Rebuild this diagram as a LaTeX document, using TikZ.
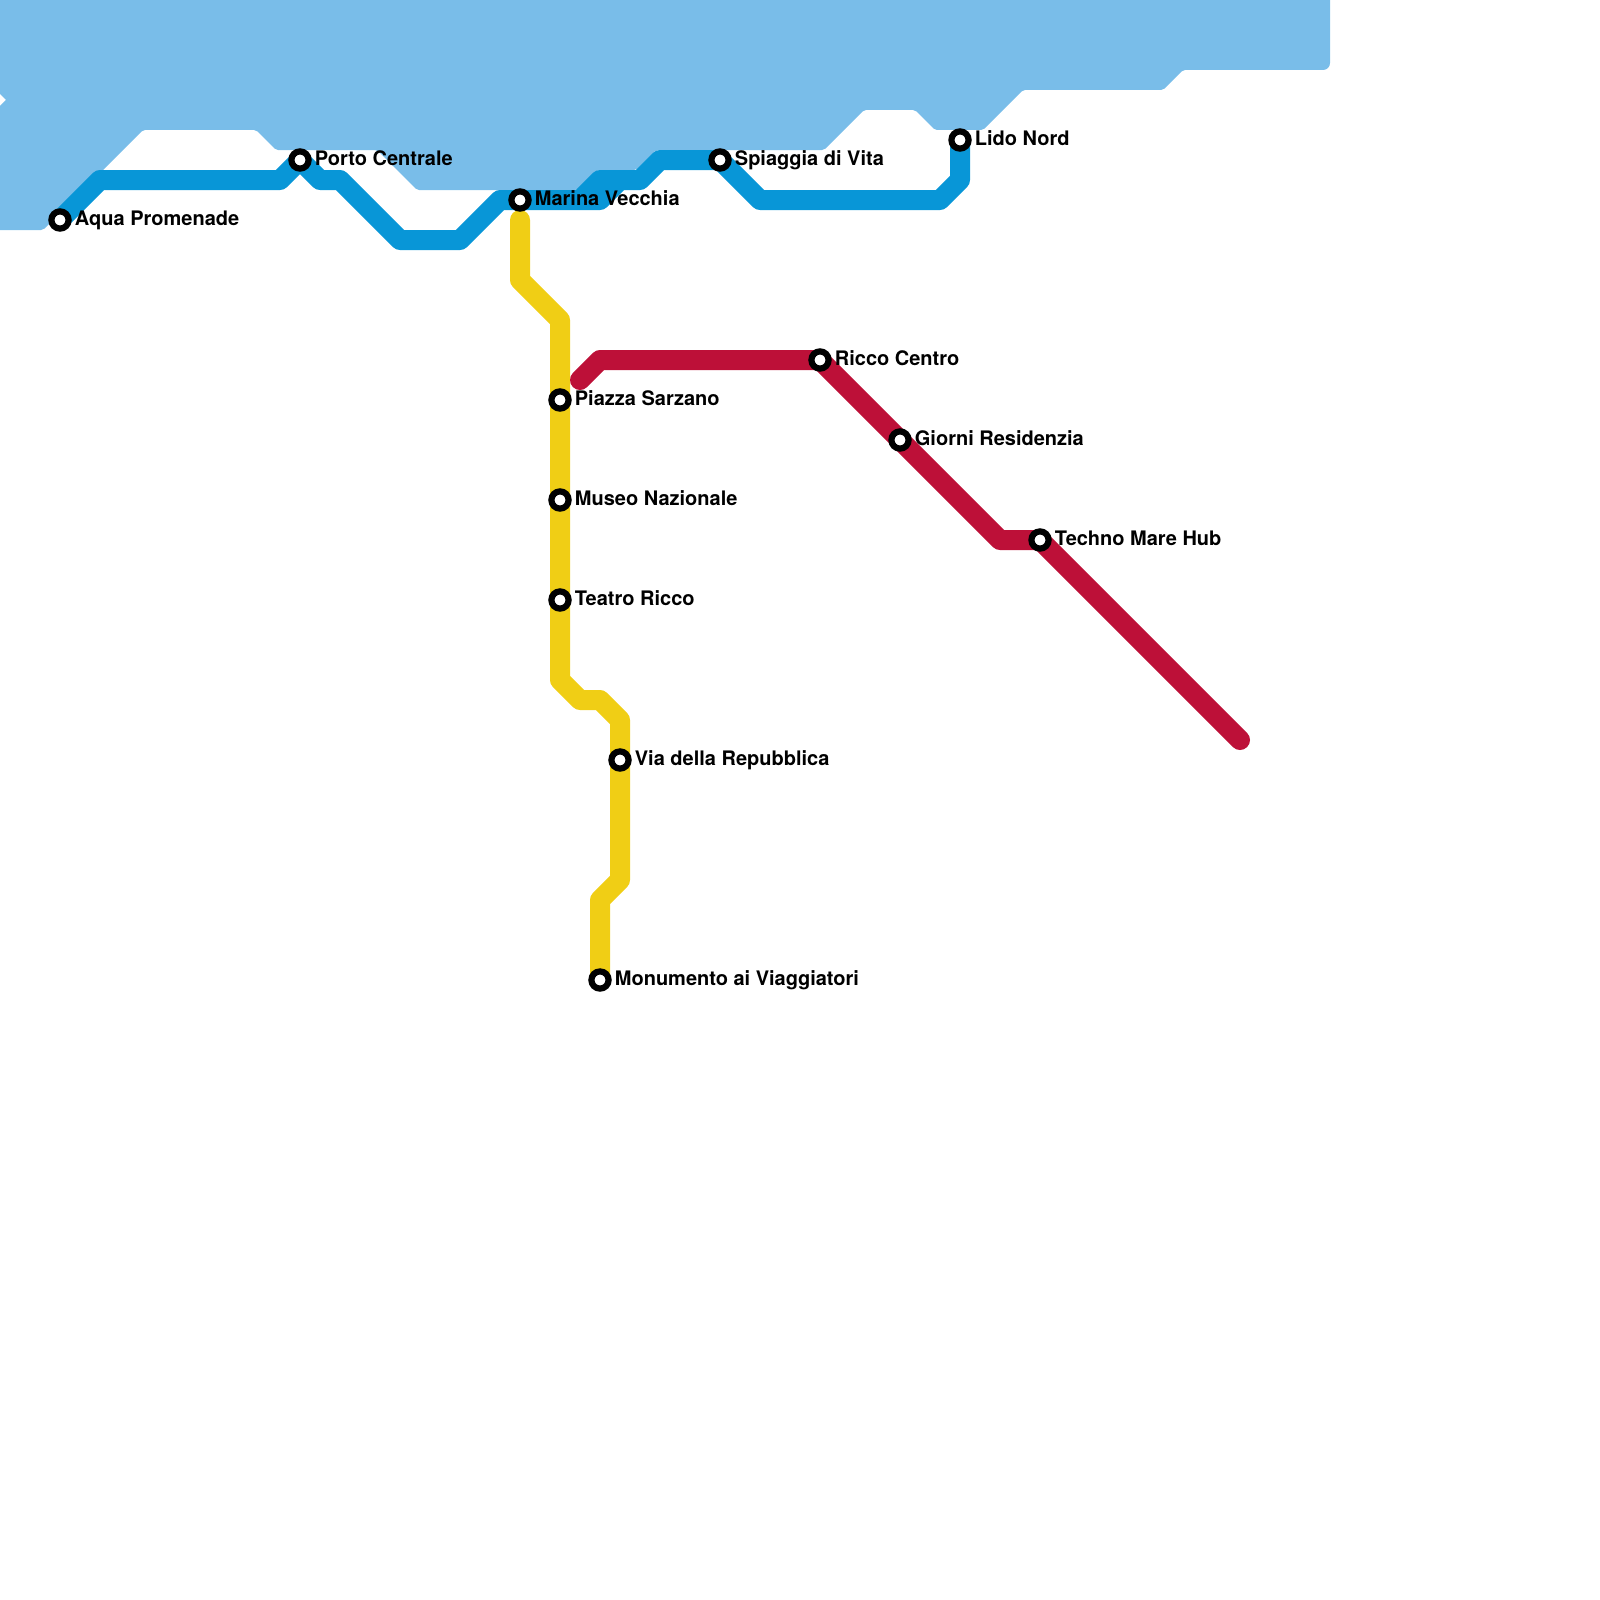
\documentclass[tikz,border=0pt]{standalone}
\usepackage{fontspec}
\setmainfont{TeX Gyre Heros}
\definecolor{watercol}{HTML}{79BDE9}
\definecolor{bluecol}{HTML}{0896D7}
\definecolor{yellowcol}{HTML}{F0CE15}
\definecolor{redcol}{HTML}{BD1038}
\pgfdeclarelayer{water}
\pgfdeclarelayer{lines}
\pgfsetlayers{water,lines,main}
\tikzset{
  metro/.style={line width=20pt,line cap=round,line join=round},
  stationdot/.style={circle,draw=black,fill=white,line width=6.2pt,minimum size=17.2pt,inner sep=0pt,outer sep=0pt},
  stationname/.style={anchor=base west,inner sep=0pt,outer sep=0pt,font=\bfseries\fontsize{20pt}{24pt}\selectfont,text=black},
}
\newcommand{\stn}[4]{%
  \node[stationdot] (#1) at (#2,#3) {};
  \node[stationname] (#1L) at (#2+14.9,#3+5.5) {#4};
}
\begin{document}
\begin{tikzpicture}[x=1pt,y=-1pt]
\useasboundingbox (0,0) rectangle (1600,1600);
\stn{aqua}{60}{220}{Aqua Promenade}
\stn{porto}{300}{160}{Porto Centrale}
\stn{marina}{520}{200}{Marina Vecchia}
\stn{spiaggia}{720}{160}{Spiaggia di Vita}
\stn{lido}{960}{140}{Lido Nord}
\stn{sarzano}{560}{400}{Piazza Sarzano}
\stn{museo}{560}{500}{Museo Nazionale}
\stn{teatro}{560}{600}{Teatro Ricco}
\stn{repubblica}{620}{760}{Via della Repubblica}
\stn{monumento}{600}{980}{Monumento ai Viaggiatori}
\stn{ricco}{820}{360}{Ricco Centro}
\stn{giorni}{900}{440}{Giorni Residenzia}
\stn{techno}{1040}{540}{Techno Mare Hub}
\coordinate (redend) at (1240,740);
\coordinate (redstart) at (580,380);
\coordinate (yellowstart) at (520,220);
\begin{pgfonlayer}{water}
\fill[watercol]
  (0,0) -- (1330,0) [rounded corners=7pt] -- (1330,70) [rounded corners=2pt] -- (1183,70) -- (1163,90) -- (1023,90)
  -- (983,130) -- (935,130) -- (915,110) -- (864,110) -- (824,150) -- (656,150)
  -- (636,170) -- (597,170) -- (577,190) -- (417,190) -- (377,150) -- (276,150)
  -- (256,130) -- (143,130) -- (43,230) [sharp corners] -- (0,230) -- (0,106) -- (6,100) -- (0,94) -- cycle;
\end{pgfonlayer}
\begin{pgfonlayer}{lines}
\draw[metro,bluecol] (aqua.center) -- (100,180) -- (280,180) -- (porto.center) -- (320,180) -- (340,180)
  -- (400,240) -- (460,240) -- (500,200) -- (marina.center) -- (600,200) -- (620,180)
  (580,200) -- (600,180) -- (640,180)
  -- (660,160) -- (spiaggia.center) -- (760,200) -- (940,200) -- (960,180) -- (lido.center);
\draw[metro,yellowcol] (yellowstart) -- (520,280) -- (560,320) -- (sarzano.center) -- (museo.center) -- (teatro.center)
  -- (560,680) -- (580,700) -- (600,700) -- (620,720) -- (repubblica.center) -- (620,880) -- (600,900) -- (monumento.center);
\draw[metro,redcol] (redstart) -- (600,360) -- (ricco.center) -- (giorni.center) -- (1000,540) -- (techno.center) -- (redend);
\end{pgfonlayer}
\end{tikzpicture}
\end{document}
